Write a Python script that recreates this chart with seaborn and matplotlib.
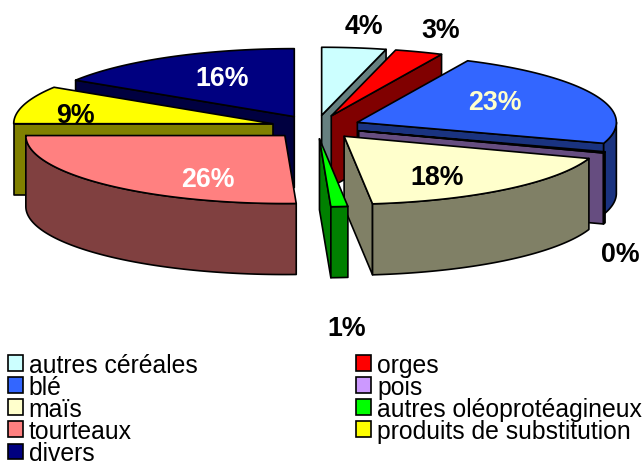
"""
camembert 3D eclate, repartition des matieres premieres
"""

import numpy as np
import matplotlib
matplotlib.use("Agg")
import matplotlib.pyplot as plt
from matplotlib.patches import Patch
import seaborn as sns

# data
categories = ["autres céréales", "orges", "blé", "pois", "maïs",
              "autres oléoprotéagineux", "tourteaux",
              "produits de substitution", "divers"]
values = [4, 3, 23, 0.3, 17.95, 1.05, 25.7, 9, 16]
colors = ["#CCFFFF", "#FF0000", "#3366FF", "#CC99FF", "#FFFFCC",
          "#00FF00", "#FF8080", "#FFFF00", "#000080"]

# label placement and colour, same order as categories
label_x = [364, 441, 495, 620, 437, 347, 208, 75, 222]
label_y = [27.5, 31.5, 102.5, 255.5, 178.5, 329.5, 180.5, 116, 79.5]
label_col = ["black", "black", "#FFFFCC", "black", "black",
             "black", "white", "black", "white"]

# back slices first, then front ones
draw_order = [8, 7, 6, 0, 1, 2, 3, 4, 5]

# pie geometry in pixels
cx, cy = 316, 128
rx, ry = 259, 68
explode = 0.174
depth = 71

sns.set_theme(style="white")
plt.rcParams['font.family'] = ['Liberation Sans', 'DejaVu Sans']
plt.rcParams['text.color'] = 'black'
palette = sns.color_palette(colors)
sides = [tuple(c * 0.5 for c in col) for col in palette]

fig = plt.figure(figsize=(6.42, 4.64), dpi=100)
ax = fig.add_axes([0, 0, 1, 1])
ax.set_xlim(0, 642)
ax.set_ylim(464, 0)
ax.axis('off')

stops = np.cumsum([0] + values) / sum(values) * 360


def rim(ox, oy, a, b):
    t = np.radians(np.linspace(a, b, 120))
    return ox + rx * np.sin(t), oy - ry * np.cos(t)


def face(xs, ys, col):
    ax.fill(xs, ys, facecolor=col, edgecolor='black', lw=1.2, joinstyle='round')


for i in draw_order:
    a, b = stops[i], stops[i + 1]
    mid = np.radians((a + b) / 2)
    ox = cx + explode * rx * np.sin(mid)
    oy = cy - explode * ry * np.cos(mid)

    # radial walls that face the viewer
    for ang, show in ((a, 180 < a < 360), (b, 0 < b < 180)):
        if show:
            ex, ey = rim(ox, oy, ang, ang)
            face([ox, ex[0], ex[0], ox], [oy, ey[0], ey[0] + depth, oy + depth], sides[i])

    # outer rim, front half only
    lo, hi = max(a, 90), min(b, 270)
    if lo < hi:
        xr, yr = rim(ox, oy, lo, hi)
        face(np.r_[xr, xr[::-1]], np.r_[yr, yr[::-1] + depth], sides[i])

    # top
    xt, yt = rim(ox, oy, a, b)
    face(np.r_[ox, xt], np.r_[oy, yt], palette[i])

for i, v in enumerate(values):
    ax.text(label_x[i], label_y[i], f"{round(v)}%", color=label_col[i], fontsize=19.3,
            fontweight='bold', ha='center', va='center')

# matplotlib fills columns first, the reference reads row by row
legend_order = [0, 2, 4, 6, 8, 1, 3, 5, 7]
handles = [Patch(facecolor=palette[i], edgecolor='black', lw=1.2) for i in legend_order]
fig.legend(handles, [categories[i] for i in legend_order], ncol=2, loc='upper left',
           bbox_to_anchor=(0.012, 0.238), frameon=False, fontsize=17.85, borderpad=0.0,
           labelspacing=-0.075, handlelength=0.6, handleheight=0.6, handletextpad=0.25,
           columnspacing=6.4, borderaxespad=0, labelcolor='black')

fig.savefig("out.png", dpi=100)
